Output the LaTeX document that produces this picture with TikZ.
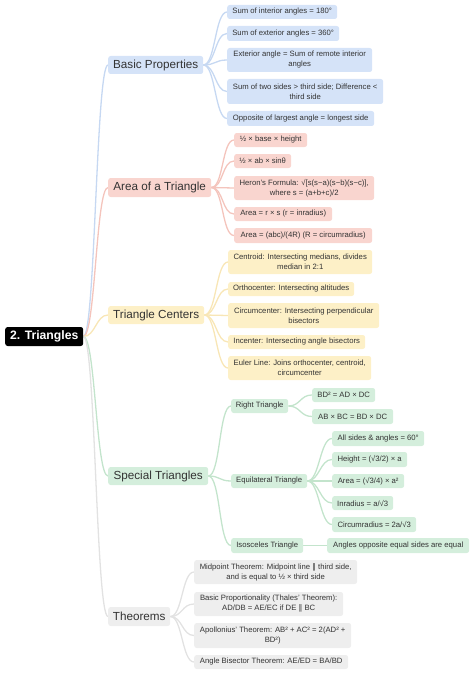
\documentclass[tikz,border=0pt]{standalone}
\usepackage{fontspec}
\setmainfont{Liberation Sans}
\newfontfamily\dejavu{DejaVu Sans}
\usetikzlibrary{backgrounds}
\definecolor{bluef}{HTML}{D5E3F8}
\definecolor{bluel}{HTML}{C6D8F2}
\definecolor{redf}{HTML}{F9D5CF}
\definecolor{redl}{HTML}{F4C4BC}
\definecolor{yelf}{HTML}{FDF0C7}
\definecolor{yell}{HTML}{F8E6B6}
\definecolor{grnf}{HTML}{D4EEDC}
\definecolor{grnl}{HTML}{C3E4CC}
\definecolor{grayf}{HTML}{EEEEEE}
\definecolor{grayl}{HTML}{E2E2E2}
\definecolor{txt}{HTML}{333333}
\newcommand{\parsym}{{\dejavu ∥}}
\begin{document}
\begin{tikzpicture}[x=1pt,y=-1pt,
  box/.style={anchor=west, rounded corners=2.5pt, inner sep=0pt, align=center, text=txt},
  leaf/.style={box, font=\fontsize{7.7}{10}\selectfont},
  mainb/.style={box, font=\fontsize{11.7}{13}\selectfont},
  rootb/.style={box, fill=black, text=white, font=\fontsize{12.2}{14}\selectfont\bfseries},
  bl/.style={leaf, fill=bluef}, rl/.style={leaf, fill=redf}, yl/.style={leaf, fill=yelf},
  gl/.style={leaf, fill=grnf}, al/.style={leaf, fill=grayf},
  wh/.style 2 args={minimum width=#1pt, minimum height=#2pt},
  conn/.style={draw=#1, line width=1.3pt, out=0, in=180, distance=12pt}
]
\useasboundingbox (0,0) rectangle (474,674);
% root
\node[rootb, wh={78}{19}] (root) at (5,336.5) {2. Triangles};
% main branches
\node[mainb, fill=bluef, wh={95}{18}] (bp) at (108,65) {Basic Properties};
\node[mainb, fill=redf, wh={103}{19}] (at) at (108,187.5) {Area of a Triangle};
\node[mainb, fill=yelf, wh={96}{18}] (tc) at (108,315) {Triangle Centers};
\node[mainb, fill=grnf, wh={100}{18}] (st) at (108,476) {Special Triangles};
\node[mainb, fill=grayf, wh={62}{19}] (th) at (108,616.5) {Theorems};
% basic properties
\node[bl, wh={110}{14}] (b1) at (227,12) {Sum of interior angles = 180°};
\node[bl, wh={112}{15}] (b2) at (227,33.5) {Sum of exterior angles = 360°};
\node[bl, wh={145}{24}] (b3) at (227,60) {Exterior angle = Sum of remote interior\\angles};
\node[bl, wh={156}{25}] (b4) at (227,91.5) {Sum of two sides > third side; Difference <\\third side};
\node[bl, wh={147}{15}] (b5) at (227,118.5) {Opposite of largest angle = longest side};
% area
\node[rl, wh={73}{14}] (a1) at (234,140) {½ × base × height};
\node[rl, wh={57}{14}] (a2) at (234,161) {½ × ab × sinθ};
\node[rl, wh={140}{24}] (a3) at (234,188) {Heron's Formula: √[s(s−a)(s−b)(s−c)],\\where s = (a+b+c)/2};
\node[rl, wh={98}{14}] (a4) at (234,214) {Area = r × s (r = inradius)};
\node[rl, wh={138}{15}] (a5) at (234,235.5) {Area = (abc)/(4R) (R = circumradius)};
% centers
\node[yl, wh={144}{24}] (c1) at (228,262) {Centroid: Intersecting medians, divides\\median in 2:1};
\node[yl, wh={126}{14}] (c2) at (228,289) {Orthocenter: Intersecting altitudes};
\node[yl, wh={151}{25}] (c3) at (228,315.5) {Circumcenter: Intersecting perpendicular\\bisectors};
\node[yl, wh={137}{14}] (c4) at (228,342) {Incenter: Intersecting angle bisectors};
\node[yl, wh={143}{24}] (c5) at (228,368) {Euler Line: Joins orthocenter, centroid,\\circumcenter};
% special triangles
\node[gl, wh={57}{14}] (rt) at (231,406) {Right Triangle};
\node[gl, wh={63}{14}] (r1) at (312,395) {BD² = AD × DC};
\node[gl, wh={81}{15}] (r2) at (312,416.5) {AB × BC = BD × DC};
\node[gl, wh={76}{14}] (eq) at (231,481) {Equilateral Triangle};
\node[gl, wh={92}{15}] (e1) at (332,438.5) {All sides \& angles = 60°};
\node[gl, wh={75}{15}] (e2) at (332,459.5) {Height = (√3/2) × a};
\node[gl, wh={72}{14}] (e3) at (332,481) {Area = (√3/4) × a²};
\node[gl, wh={61}{14}] (e4) at (332,503) {Inradius = a/√3};
\node[gl, wh={84}{15}] (e5) at (332,524.5) {Circumradius = 2a/√3};
\node[gl, wh={72}{15}] (is) at (231,545.5) {Isosceles Triangle};
\node[gl, wh={142}{15}] (i1) at (327,545.5) {Angles opposite equal sides are equal};
% theorems
\node[al, wh={163}{24}] (t1) at (194,572) {Midpoint Theorem: Midpoint line \parsym{} third side,\\and is equal to ½ × third side};
\node[al, wh={149}{24}] (t2) at (194,604) {Basic Proportionality (Thales' Theorem):\\AD/DB = AE/EC if DE \parsym{} BC};
\node[al, wh={157}{25}] (t3) at (194,635.5) {Apollonius' Theorem: AB² + AC² = 2(AD² +\\BD²)};
\node[al, wh={154}{14}] (t4) at (194,662) {Angle Bisector Theorem: AE/ED = BA/BD};
\begin{pgfonlayer}{background}
\draw[conn=bluel] (root.east) to (bp.west);
\draw[conn=redl] (root.east) to (at.west);
\draw[conn=yell] (root.east) to (tc.west);
\draw[conn=grnl] (root.east) to (st.west);
\draw[conn=grayl] (root.east) to (th.west);
\foreach \c in {b1,b2,b3,b4,b5} \draw[conn=bluel] (bp.east) to (\c.west);
\foreach \c in {a1,a2,a3,a4,a5} \draw[conn=redl] (at.east) to (\c.west);
\foreach \c in {c1,c2,c3,c4,c5} \draw[conn=yell] (tc.east) to (\c.west);
\foreach \c in {rt,eq,is} \draw[conn=grnl] (st.east) to (\c.west);
\foreach \c in {r1,r2} \draw[conn=grnl] (rt.east) to (\c.west);
\foreach \c in {e1,e2,e3,e4,e5} \draw[conn=grnl] (eq.east) to (\c.west);
\draw[conn=grnl] (is.east) to (i1.west);
\foreach \c in {t1,t2,t3,t4} \draw[conn=grayl] (th.east) to (\c.west);
\end{pgfonlayer}
\end{tikzpicture}
\end{document}
